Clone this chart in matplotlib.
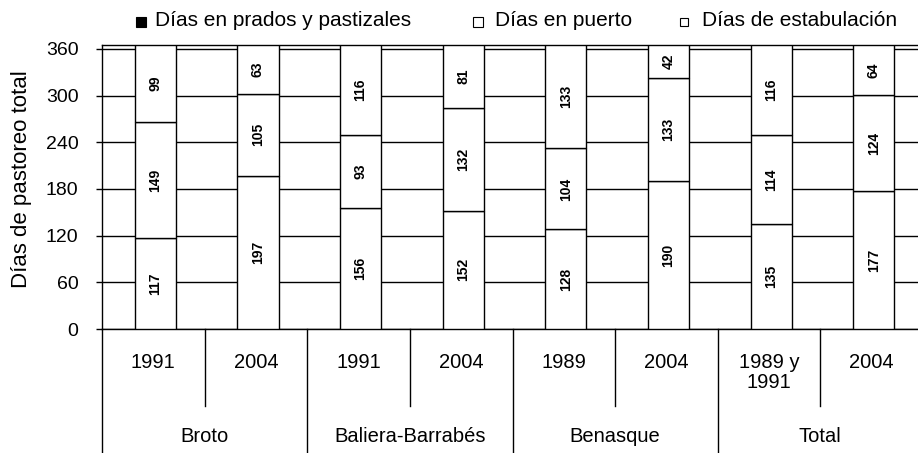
import matplotlib
matplotlib.use("Agg")
import matplotlib.pyplot as plt
import matplotlib.transforms as mtransforms
from matplotlib.patches import Rectangle
import numpy as np

plt.rcParams['font.family'] = ['Liberation Sans', 'DejaVu Sans']

groups = ["Broto", "Baliera-Barrabés", "Benasque", "Total"]
years = ["1991", "2004", "1991", "2004", "1989", "2004", "1989 y\n1991", "2004"]
prados = [117, 197, 156, 152, 128, 190, 135, 177]
puerto = [149, 105, 93, 132, 104, 133, 114, 124]
estab = [99, 63, 116, 81, 133, 42, 116, 64]
legend_labels = ["Días en prados y pastizales", "Días en puerto", "Días de estabulación"]
yticks = [0, 60, 120, 180, 240, 300, 360]

W, H = 918, 453
fig = plt.figure(figsize=(W / 100, H / 100), dpi=100)
ax_left, ax_right = 102, 923
y0_px, ytop_px = 329, 45
ax = fig.add_axes([ax_left / W, 1 - y0_px / H, (ax_right - ax_left) / W, (y0_px - ytop_px) / H])

def fy(px):
    return 1 - px / H

x = np.arange(len(years)) + 0.02
bw = 0.4
series = [prados, puerto, estab]
bottom = np.zeros(len(years))
for vals in series:
    vals = np.array(vals)
    ax.bar(x, vals, bw, bottom=bottom, color='white', edgecolor='black', linewidth=1.0, zorder=3)
    for xi, b, v in zip(x, bottom, vals):
        ax.text(xi, b + v / 2, str(v), rotation=90, ha='center', va='center',
                fontsize=10, fontweight='bold', zorder=4)
    bottom += vals

ax.set_xlim(-0.5, len(years) - 0.5)
ax.set_ylim(0, 365)
ax.set_yticks(yticks)
ax.set_yticklabels([str(t) for t in yticks], fontsize=14)
ax.yaxis.grid(True, color='black', linewidth=1.0, zorder=0)
ax.set_axisbelow(True)
ax.tick_params(axis='y', length=4, width=1, pad=13)
ax.set_xticks([])
for s in ['left', 'bottom', 'top']:
    ax.spines[s].set_linewidth(1.0)
ax.spines['right'].set_visible(False)
fig.text(22 / W, fy(179), "Días de pastoreo total", rotation=90, ha='center', va='center', fontsize=16)

# hierarchical x axis
trans = mtransforms.blended_transform_factory(ax.transData, fig.transFigure)
for i in range(len(years) + 1):
    xb = i - 0.5
    if i % 2 == 0:
        ax.plot([xb, xb], [fy(329), fy(453)], transform=trans, color='black', lw=1.0, clip_on=False)
    else:
        ax.plot([xb, xb], [fy(329), fy(406)], transform=trans, color='black', lw=1.0, clip_on=False)
for i, yl in enumerate(years):
    ax.text(i, fy(353), yl, transform=trans, ha='center', va='top', fontsize=14.5, linespacing=1.05)
for g, name in enumerate(groups):
    ax.text(2 * g + 0.5, fy(437), name, transform=trans, ha='center', va='center', fontsize=14.5)

# legend
leg_items = [(136, 10, 'black', 155, legend_labels[0]),
             (473, 10, 'white', 495, legend_labels[1]),
             (680, 8, 'white', 702, legend_labels[2])]
for sx, ss, fc, tx, lab in leg_items:
    fig.patches.append(Rectangle((sx / W, fy(22 + ss / 2)), ss / W, ss / H, transform=fig.transFigure,
                                 facecolor=fc, edgecolor='black', linewidth=0.8))
    fig.text(tx / W, fy(20), lab, ha='left', va='center', fontsize=15)

fig.savefig("out.png", dpi=100)
